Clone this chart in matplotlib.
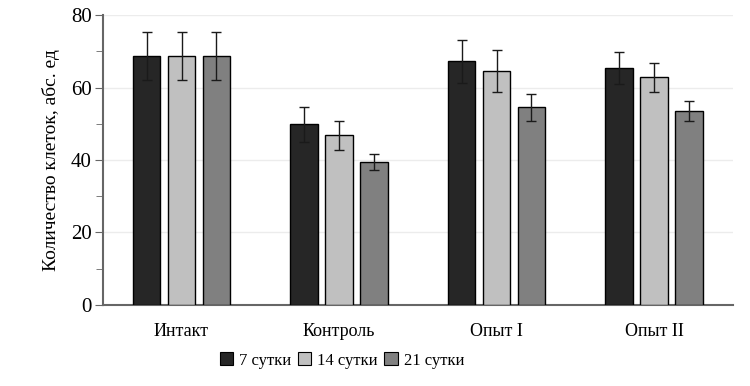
import numpy as np
import matplotlib.pyplot as plt
from matplotlib.patches import Patch

plt.rcParams['font.family'] = ['Liberation Serif', 'DejaVu Serif']

# данные
groups = ["Интакт", "Контроль", "Опыт I", "Опыт II"]
series = ["7 сутки", "14 сутки", "21 сутки"]
day7 = [68.8, 49.8, 67.2, 65.3]
day14 = [68.8, 46.8, 64.5, 62.8]
day21 = [68.8, 39.5, 54.6, 53.6]
err7 = [6.6, 4.9, 5.9, 4.4]
err14 = [6.6, 4.1, 5.8, 3.9]
err21 = [6.6, 2.2, 3.7, 2.8]

colors = ["#262626", "#c0c0c0", "#808080"]

fig = plt.figure(figsize=(7.5, 3.86), dpi=100)
ax = fig.add_axes([0.137, 0.21, 0.84, 0.751])

x = np.arange(len(groups))
w = 0.175
step = 0.222
for i, (vals, errs) in enumerate(zip([day7, day14, day21], [err7, err14, err21])):
    ax.bar(x + (i - 1) * step, vals, width=w, color=colors[i], edgecolor="black",
           linewidth=1.0, yerr=errs, capsize=3.5,
           error_kw=dict(ecolor="#1a1a1a", elinewidth=1.0, capthick=1.0), zorder=3)

ax.set_xlim(-0.5, 3.5)
ax.set_ylim(0, 80)
ax.set_yticks([0, 20, 40, 60, 80])
ax.set_yticks([10, 30, 50, 70], minor=True)
ax.yaxis.grid(True, color="#ececec", lw=1.0, zorder=0)
ax.set_xticks(x)
ax.set_xticklabels(groups, fontsize=13)
ax.tick_params(axis="x", length=0, pad=13)
ax.tick_params(axis="y", which="major", length=6, color="#666666", labelsize=15, pad=2)
ax.tick_params(axis="y", which="minor", length=5, color="#666666")
ax.set_ylabel("Количество клеток, абс. ед", fontsize=14, labelpad=8)

for s in ["top", "right"]:
    ax.spines[s].set_visible(False)
for s in ["left", "bottom"]:
    ax.spines[s].set_color("#666666")
    ax.spines[s].set_linewidth(1.5)

handles = [Patch(facecolor=c, edgecolor="black", linewidth=0.8) for c in colors]
fig.legend(handles, series, loc="center", bbox_to_anchor=(0.456, 0.066), ncol=3,
           frameon=False, fontsize=12, handlelength=0.8, handleheight=0.8,
           handletextpad=0.35, columnspacing=0.4)

fig.savefig("out.png", dpi=100)
